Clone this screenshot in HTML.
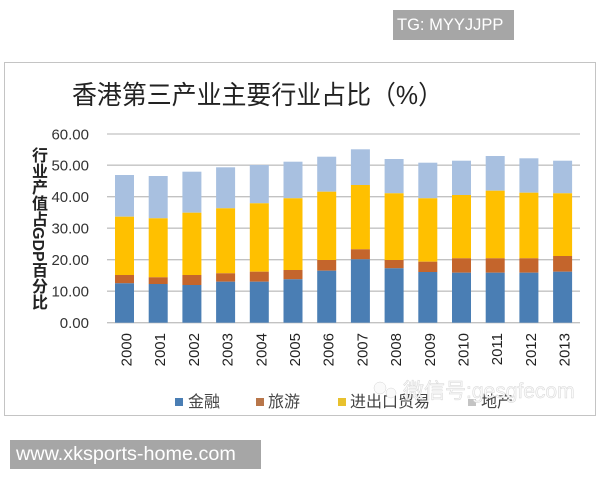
<!DOCTYPE html>
<html><head><meta charset="utf-8">
<style>
html,body{margin:0;padding:0;background:#fff;}
body{width:600px;height:480px;position:relative;overflow:hidden;font-family:"Liberation Sans","Noto Sans CJK SC",sans-serif;}
.tg{position:absolute;left:393px;top:10px;width:121px;height:30px;background:#a6a6a6;color:#fff;font-size:16.5px;line-height:30px;padding-left:4px;box-sizing:border-box;}
.url{position:absolute;left:10px;top:440px;width:251px;height:29px;background:#a6a6a6;color:#fff;font-size:19.8px;line-height:29px;padding-left:6px;box-sizing:border-box;}
.frame{position:absolute;left:4px;top:62px;width:592px;height:354px;border:1.5px solid #c4c4c4;box-sizing:border-box;}
.ytitle{position:absolute;left:29px;top:147px;writing-mode:vertical-rl;font-size:16px;font-weight:bold;line-height:16px;color:#222;font-family:"Liberation Sans","Noto Sans CJK SC",sans-serif;}
svg{position:absolute;left:0;top:0;}
</style></head><body>
<div class="tg">TG: MYYJJPP</div>
<div class="frame"></div>
<svg width="600" height="480" viewBox="0 0 600 480" xmlns="http://www.w3.org/2000/svg">
<text x="72" y="104" font-size="26" fill="#222" textLength="371" lengthAdjust="spacingAndGlyphs" font-family="Liberation Sans, Noto Sans CJK SC, sans-serif">香港第三产业主要行业占比（%）</text>
<g stroke="#c2c2c2" stroke-width="1.3">
<line x1="107" x2="580" y1="134" y2="134"/>
<line x1="107" x2="580" y1="165.2" y2="165.2"/>
<line x1="107" x2="580" y1="196.7" y2="196.7"/>
<line x1="107" x2="580" y1="228.2" y2="228.2"/>
<line x1="107" x2="580" y1="259.7" y2="259.7"/>
<line x1="107" x2="580" y1="291.2" y2="291.2"/>
<line x1="107" x2="580" y1="322.7" y2="322.7"/>
</g>
<g font-size="15" fill="#333" text-anchor="end" font-family="Liberation Sans, sans-serif">
<text x="89" y="139.3">60.00</text>
<text x="89" y="170.5">50.00</text>
<text x="89" y="202">40.00</text>
<text x="89" y="233.5">30.00</text>
<text x="89" y="265">20.00</text>
<text x="89" y="296.5">10.00</text>
<text x="89" y="328">0.00</text>
</g>
<g fill="#a8c0e0">
<rect x="115" y="175" width="19" height="41.7"/>
<rect x="148.7" y="176" width="19" height="42.3"/>
<rect x="182.4" y="171.7" width="19" height="41"/>
<rect x="216.1" y="167.3" width="19" height="41"/>
<rect x="249.8" y="165" width="19" height="38.3"/>
<rect x="283.5" y="161.7" width="19" height="36.6"/>
<rect x="317.2" y="156.7" width="19" height="35"/>
<rect x="350.9" y="149.3" width="19" height="35.7"/>
<rect x="384.6" y="159" width="19" height="34.3"/>
<rect x="418.3" y="162.7" width="19" height="35.6"/>
<rect x="452" y="160.7" width="19" height="34.3"/>
<rect x="485.7" y="156" width="19" height="34.7"/>
<rect x="519.4" y="158.3" width="19" height="34.4"/>
<rect x="553.1" y="160.7" width="19" height="32.6"/>
</g>
<g fill="#ffc000">
<rect x="115" y="216.7" width="19" height="58.3"/>
<rect x="148.7" y="218.3" width="19" height="59"/>
<rect x="182.4" y="212.7" width="19" height="62.3"/>
<rect x="216.1" y="208.3" width="19" height="65"/>
<rect x="249.8" y="203.3" width="19" height="68.4"/>
<rect x="283.5" y="198.3" width="19" height="71.7"/>
<rect x="317.2" y="191.7" width="19" height="68.3"/>
<rect x="350.9" y="185" width="19" height="64.3"/>
<rect x="384.6" y="193.3" width="19" height="66.7"/>
<rect x="418.3" y="198.3" width="19" height="63.4"/>
<rect x="452" y="195" width="19" height="63.3"/>
<rect x="485.7" y="190.7" width="19" height="67.6"/>
<rect x="519.4" y="192.7" width="19" height="65.6"/>
<rect x="553.1" y="193.3" width="19" height="62.7"/>
</g>
<g fill="#c4652c">
<rect x="115" y="275" width="19" height="8.3"/>
<rect x="148.7" y="277.3" width="19" height="6.7"/>
<rect x="182.4" y="275" width="19" height="10"/>
<rect x="216.1" y="273.3" width="19" height="8.4"/>
<rect x="249.8" y="271.7" width="19" height="10"/>
<rect x="283.5" y="270" width="19" height="9.3"/>
<rect x="317.2" y="260" width="19" height="10.7"/>
<rect x="350.9" y="249.3" width="19" height="10"/>
<rect x="384.6" y="260" width="19" height="8.3"/>
<rect x="418.3" y="261.7" width="19" height="10.3"/>
<rect x="452" y="258.3" width="19" height="14.4"/>
<rect x="485.7" y="258.3" width="19" height="14.4"/>
<rect x="519.4" y="258.3" width="19" height="14.4"/>
<rect x="553.1" y="256" width="19" height="15.7"/>
</g>
<g fill="#4a7eb4">
<rect x="115" y="283.3" width="19" height="39.4"/>
<rect x="148.7" y="284" width="19" height="38.7"/>
<rect x="182.4" y="285" width="19" height="37.7"/>
<rect x="216.1" y="281.7" width="19" height="41"/>
<rect x="249.8" y="281.7" width="19" height="41"/>
<rect x="283.5" y="279.3" width="19" height="43.4"/>
<rect x="317.2" y="270.7" width="19" height="52"/>
<rect x="350.9" y="259.3" width="19" height="63.4"/>
<rect x="384.6" y="268.3" width="19" height="54.4"/>
<rect x="418.3" y="272" width="19" height="50.7"/>
<rect x="452" y="272.7" width="19" height="50"/>
<rect x="485.7" y="272.7" width="19" height="50"/>
<rect x="519.4" y="272.7" width="19" height="50"/>
<rect x="553.1" y="271.7" width="19" height="51"/>
</g>
<g font-size="15" fill="#222" text-anchor="end" font-family="Liberation Sans, sans-serif">
<text transform="translate(131.5,333) rotate(-90)">2000</text>
<text transform="translate(165.2,333) rotate(-90)">2001</text>
<text transform="translate(198.9,333) rotate(-90)">2002</text>
<text transform="translate(232.6,333) rotate(-90)">2003</text>
<text transform="translate(266.3,333) rotate(-90)">2004</text>
<text transform="translate(300,333) rotate(-90)">2005</text>
<text transform="translate(333.7,333) rotate(-90)">2006</text>
<text transform="translate(367.4,333) rotate(-90)">2007</text>
<text transform="translate(401.1,333) rotate(-90)">2008</text>
<text transform="translate(434.8,333) rotate(-90)">2009</text>
<text transform="translate(468.5,333) rotate(-90)">2010</text>
<text transform="translate(502.2,333) rotate(-90)">2011</text>
<text transform="translate(535.9,333) rotate(-90)">2012</text>
<text transform="translate(569.6,333) rotate(-90)">2013</text>
</g>
<rect x="175" y="398" width="8" height="8" fill="#4a7eb4"/>
<text x="188" y="407" font-size="16" fill="#444">金融</text>
<rect x="256" y="398" width="8" height="8" fill="#b8764a"/>
<text x="268" y="407" font-size="16" fill="#444">旅游</text>
<rect x="338" y="398" width="8" height="8" fill="#e8c12e"/>
<text x="350" y="407" font-size="16" fill="#444">进出口贸易</text>
<rect x="468" y="399" width="8" height="7" fill="#c4c4c4"/>
<text x="481" y="407" font-size="16" fill="#444">地产</text>
<g fill="#fafafa" stroke="#d6d6d6" stroke-width="0.5">
<circle cx="380" cy="388" r="6"/><circle cx="391" cy="393" r="5"/>
<text x="403" y="398" font-size="21" font-family="Liberation Sans, Noto Sans CJK SC, sans-serif">微信号:gesgfecom</text>
</g>
</svg>
<div class="ytitle">行业产值占GDP百分比</div>
<div class="url">www.xksports-home.com</div>
</body></html>
